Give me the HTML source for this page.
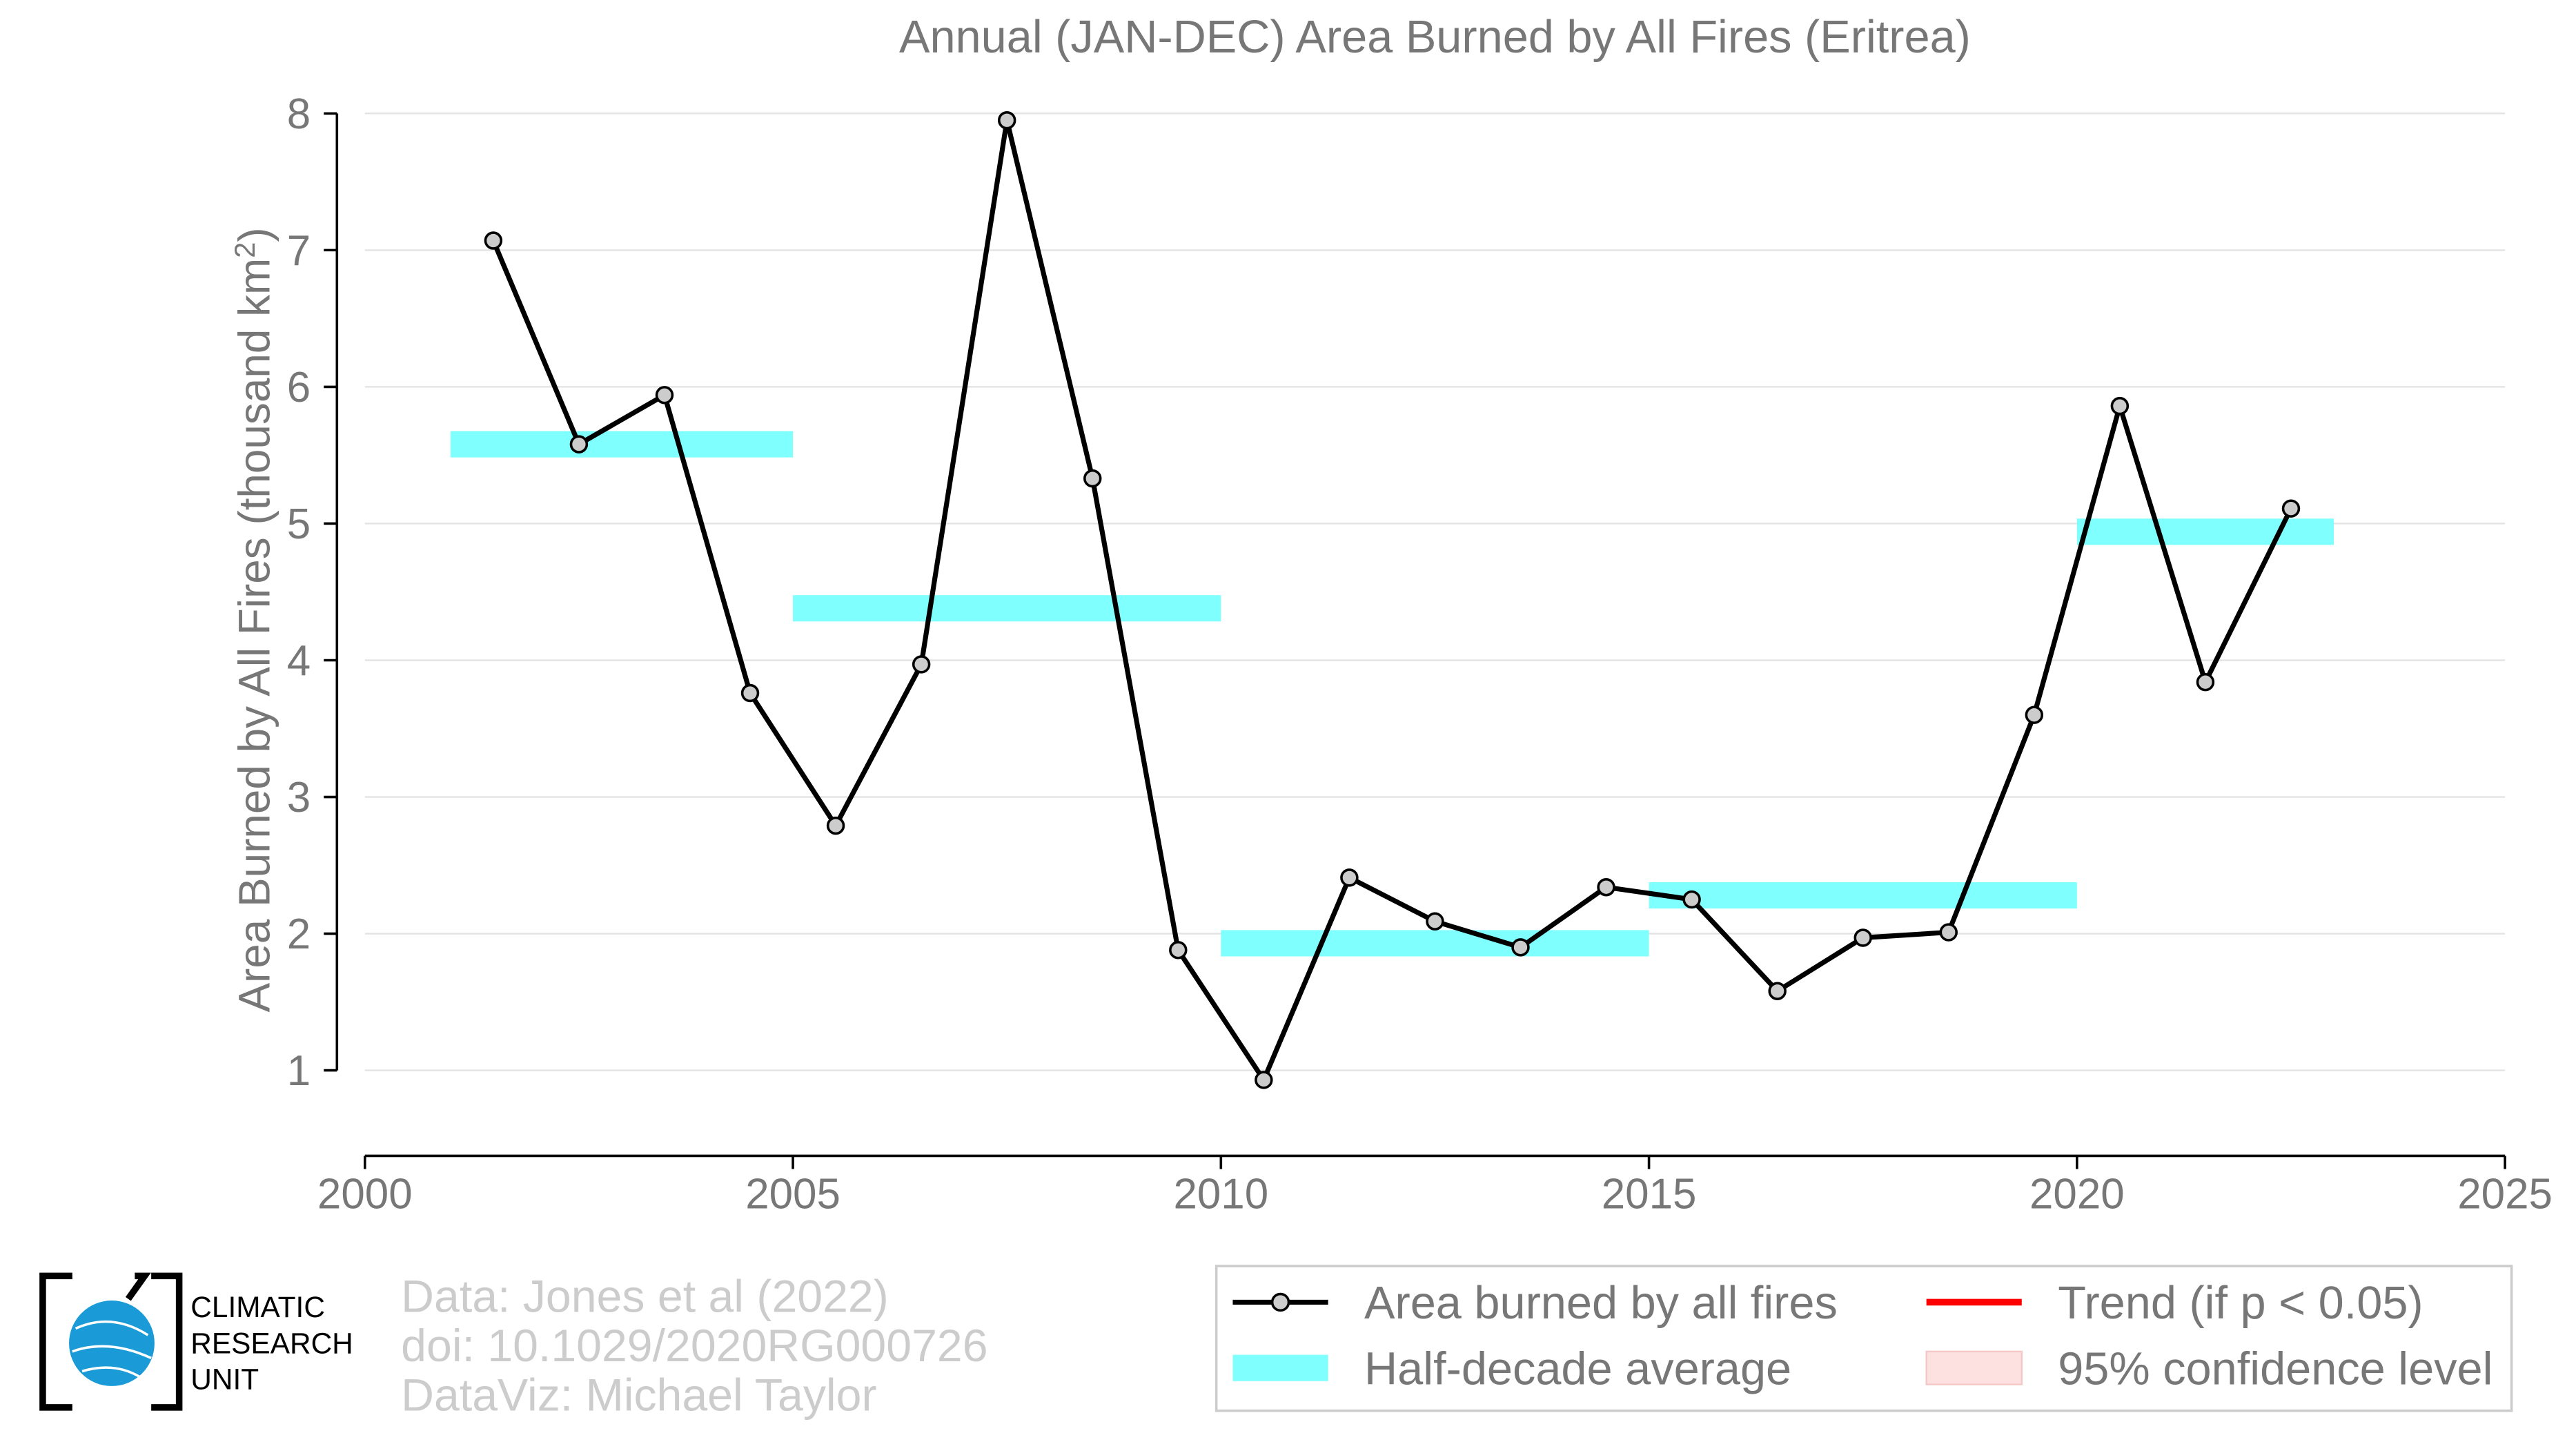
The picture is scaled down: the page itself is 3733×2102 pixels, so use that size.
<!DOCTYPE html>
<html><head><meta charset="utf-8"><style>
html,body{margin:0;padding:0;background:#fff}
svg{display:block}
text{font-family:"Liberation Sans",Arial,sans-serif}
</style></head><body>
<svg id="chart" width="3733" height="2102" viewBox="0 0 1567.2 882.5" preserveAspectRatio="none" xmlns="http://www.w3.org/2000/svg">
<rect width="1567.2" height="882.5" fill="#fff"/>
<text x="873" y="32" font-size="28" fill="#777" text-anchor="middle">Annual (JAN-DEC) Area Burned by All Fires (Eritrea)</text>
<g id="grid"></g>
<g id="ticks"></g>
<text transform="translate(164,377) rotate(-90)" font-size="26.8" fill="#777" text-anchor="middle">Area Burned by All Fires (thousand km<tspan dy="-9" font-size="17.5">2</tspan><tspan dy="9">)</tspan></text>
<g id="bars"></g>
<g id="series"></g>
<g>
<path d="M44,776 L26,776 L26,856 L44,856 M92,776 L109,776 L109,856 L92,856" stroke="#000" stroke-width="4" fill="none"/>
<path d="M82,776 L88,776 L78,790" stroke="#000" stroke-width="4" fill="none"/>
<circle cx="68" cy="817" r="26" fill="#1a9ad6"/>
<path d="M46,808 Q68,798 90,812 M44,822 Q66,814 92,826 M50,834 Q70,828 86,838" stroke="#fff" stroke-width="1.5" fill="none"/>
<text x="116" y="801" font-size="17.8" fill="#000">CLIMATIC</text>
<text x="116" y="823" font-size="17.8" fill="#000">RESEARCH</text>
<text x="116" y="845" font-size="17.8" fill="#000">UNIT</text>
</g>
<g font-size="27.8" fill="#ccc">
<text x="244" y="798">Data: Jones et al (2022)</text>
<text x="244" y="828">doi: 10.1029/2020RG000726</text>
<text x="244" y="858">DataViz: Michael Taylor</text>
</g>
<g>
<rect x="740" y="770" width="788" height="88" fill="#fff" stroke="#ccc" stroke-width="1.5"/>
<line x1="750" y1="792" x2="808" y2="792" stroke="#000" stroke-width="3"/>
<circle cx="779" cy="792" r="5" fill="#ccc" stroke="#000" stroke-width="1.5"/>
<text x="830" y="802" font-size="28" fill="#777">Area burned by all fires</text>
<rect x="750" y="824" width="58" height="16" fill="#80ffff"/>
<text x="830" y="842" font-size="28" fill="#777">Half-decade average</text>
<line x1="1172" y1="792" x2="1230" y2="792" stroke="#f00" stroke-width="4"/>
<text x="1252" y="802" font-size="28" fill="#777">Trend (if p &lt; 0.05)</text>
<rect x="1172" y="822" width="58" height="20" fill="#fde0e0" stroke="#f5c8c8"/>
<text x="1252" y="842" font-size="28" fill="#777">95% confidence level</text>
</g>
</svg>
<script>
const years=[2001.5,2002.5,2003.5,2004.5,2005.5,2006.5,2007.5,2008.5,2009.5,2010.5,2011.5,2012.5,2013.5,2014.5,2015.5,2016.5,2017.5,2018.5,2019.5,2020.5,2021.5,2022.5];
const values=[7.07,5.58,5.94,3.76,2.79,3.97,7.95,5.33,1.88,0.93,2.41,2.09,1.90,2.34,2.25,1.58,1.97,2.01,3.60,5.86,3.84,5.11];
const barStarts=[2001,2005,2010,2015,2020];
const barEnds=[2005,2010,2015,2020,2023];
const barValues=[5.58,4.38,1.93,2.28,4.94];
const xTicks=[2000,2005,2010,2015,2020,2025];
const yTicks=[1,2,3,4,5,6,7,8];
const NS="http://www.w3.org/2000/svg";
const xs=v=>222+(v-2000)*(1302/25);
const ys=v=>651-(v-1)*(582/7);
function mk(tag,attrs,parent){const e=document.createElementNS(NS,tag);for(const k in attrs)e.setAttribute(k,attrs[k]);parent.appendChild(e);return e;}
const grid=document.getElementById('grid'),ticks=document.getElementById('ticks'),bars=document.getElementById('bars'),series=document.getElementById('series');
yTicks.forEach(t=>{
 const g=mk('line',{x1:222,x2:1524,y1:ys(t),y2:ys(t),stroke:'#e3e3e3','stroke-width':1},grid);
 
 
 mk('line',{x1:197,x2:205,y1:ys(t),y2:ys(t),stroke:'#000','stroke-width':1.5},ticks);
 const l=mk('text',{x:189,y:ys(t)+9,'font-size':26,fill:'#777','text-anchor':'end'},ticks);l.textContent=t;
 
 
});
mk('line',{x1:205,x2:205,y1:ys(8),y2:ys(1),stroke:'#000','stroke-width':1.5},ticks);
mk('line',{x1:222,x2:1524,y1:703,y2:703,stroke:'#000','stroke-width':1.5},ticks);
xTicks.forEach(t=>{
 mk('line',{x1:xs(t),x2:xs(t),y1:703,y2:711,stroke:'#000','stroke-width':1.5},ticks);
 const l=mk('text',{x:xs(t),y:735,'font-size':26,fill:'#777','text-anchor':'middle'},ticks);l.textContent=t;
 
 
});
barStarts.forEach((s,i)=>{
 const r=mk('rect',{x:xs(s),width:xs(barEnds[i])-xs(s),y:ys(barValues[i])-8,height:16,fill:'#80ffff'},bars);
 
 
});
const p=mk('polyline',{points:years.map((y,i)=>xs(y)+','+ys(values[i])).join(' '),fill:'none',stroke:'#000','stroke-width':3,'stroke-linejoin':'round'},series);


years.forEach((y,i)=>{
 const c=mk('circle',{cx:xs(y),cy:ys(values[i]),r:4.8,fill:'#ccc',stroke:'#000','stroke-width':1.5},series);
 
 
});
</script>
</body></html>
